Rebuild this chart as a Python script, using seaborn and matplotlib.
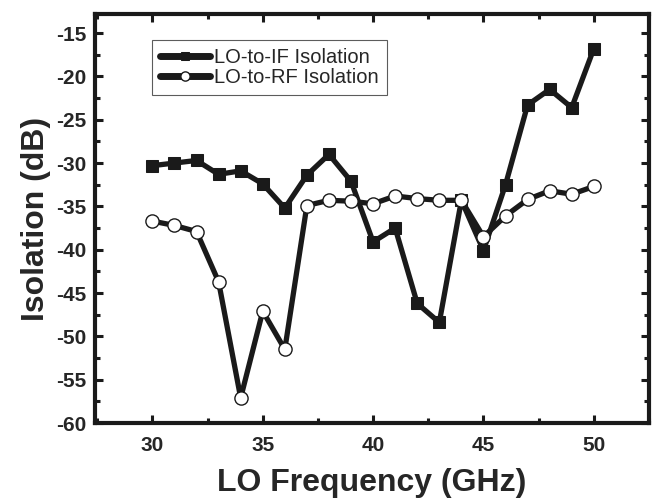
import matplotlib
matplotlib.use("Agg")
import matplotlib.pyplot as plt
from matplotlib.ticker import MultipleLocator
import seaborn as sns
import pandas as pd

# LO frequency (GHz)
freq = [30, 31, 32, 33, 34, 35, 36, 37, 38, 39, 40,
        41, 42, 43, 44, 45, 46, 47, 48, 49, 50]
# isolation values (dB)
lo_if = [-30.3, -30.0, -29.7, -31.3, -30.9, -32.4, -35.2, -31.4, -29.0, -32.1, -39.1,
         -37.5, -46.2, -48.4, -34.3, -40.1, -32.5, -23.3, -21.5, -23.6, -16.8]
lo_rf = [-36.7, -37.2, -37.9, -43.7, -57.1, -47.1, -51.5, -34.9, -34.3, -34.4, -34.7,
         -33.8, -34.1, -34.3, -34.3, -38.5, -36.1, -34.2, -33.2, -33.6, -32.7]

df = pd.DataFrame({"freq": freq, "if": lo_if, "rf": lo_rf})

sns.set_style("ticks")
plt.rcParams['font.family'] = ['Liberation Sans', 'DejaVu Sans']
plt.rcParams['axes.unicode_minus'] = False

fig = plt.figure(figsize=(6.57, 5.04), dpi=100)
ax = fig.add_axes([0.1446, 0.1607, 0.8432, 0.8115])

sns.lineplot(data=df, x="freq", y="if", ax=ax, color="#1a1a1a", linewidth=3.8,
             marker="s", markersize=9, markerfacecolor="#1a1a1a",
             markeredgecolor="#1a1a1a", label="LO-to-IF Isolation")
sns.lineplot(data=df, x="freq", y="rf", ax=ax, color="#1a1a1a", linewidth=3.8,
             marker="o", markersize=9.5, markerfacecolor="white",
             markeredgecolor="#1a1a1a", markeredgewidth=1.0, label="LO-to-RF Isolation")

ax.set_xlim(27.4, 52.5)
ax.set_ylim(-60, -12.8)
ax.xaxis.set_major_locator(MultipleLocator(5))
ax.xaxis.set_minor_locator(MultipleLocator(2.5))
ax.yaxis.set_major_locator(MultipleLocator(5))
ax.yaxis.set_minor_locator(MultipleLocator(2.5))

for s in ax.spines.values():
    s.set_linewidth(3)
    s.set_color("#1a1a1a")
    s.set_visible(True)

ax.tick_params(which="both", direction="in", top=True, right=True,
               color="#1a1a1a", width=2.2)
ax.tick_params(which="major", length=5.5, labelsize=15)
ax.tick_params(axis="x", which="major", pad=9)
ax.tick_params(axis="y", which="major", pad=6)
ax.tick_params(which="minor", length=3.5)
for lab in ax.get_xticklabels() + ax.get_yticklabels():
    lab.set_fontweight("bold")

ax.set_xlabel("LO Frequency (GHz)", fontsize=23, fontweight="bold", labelpad=10)
ax.set_ylabel("Isolation (dB)", fontsize=23, fontweight="bold", labelpad=4)

leg = ax.legend(loc="upper left", bbox_to_anchor=(0.103, 0.936), fontsize=14.5,
                frameon=True, fancybox=False, edgecolor="#333333",
                handlelength=2.5, handletextpad=0.2, borderpad=0.4,
                labelspacing=0.05, markerscale=0.7, borderaxespad=0)
leg.get_frame().set_linewidth(0.8)
for h in leg.get_lines():
    h.set_linewidth(5)
    h.set_solid_capstyle("round")

fig.savefig("out.png", dpi=100)
